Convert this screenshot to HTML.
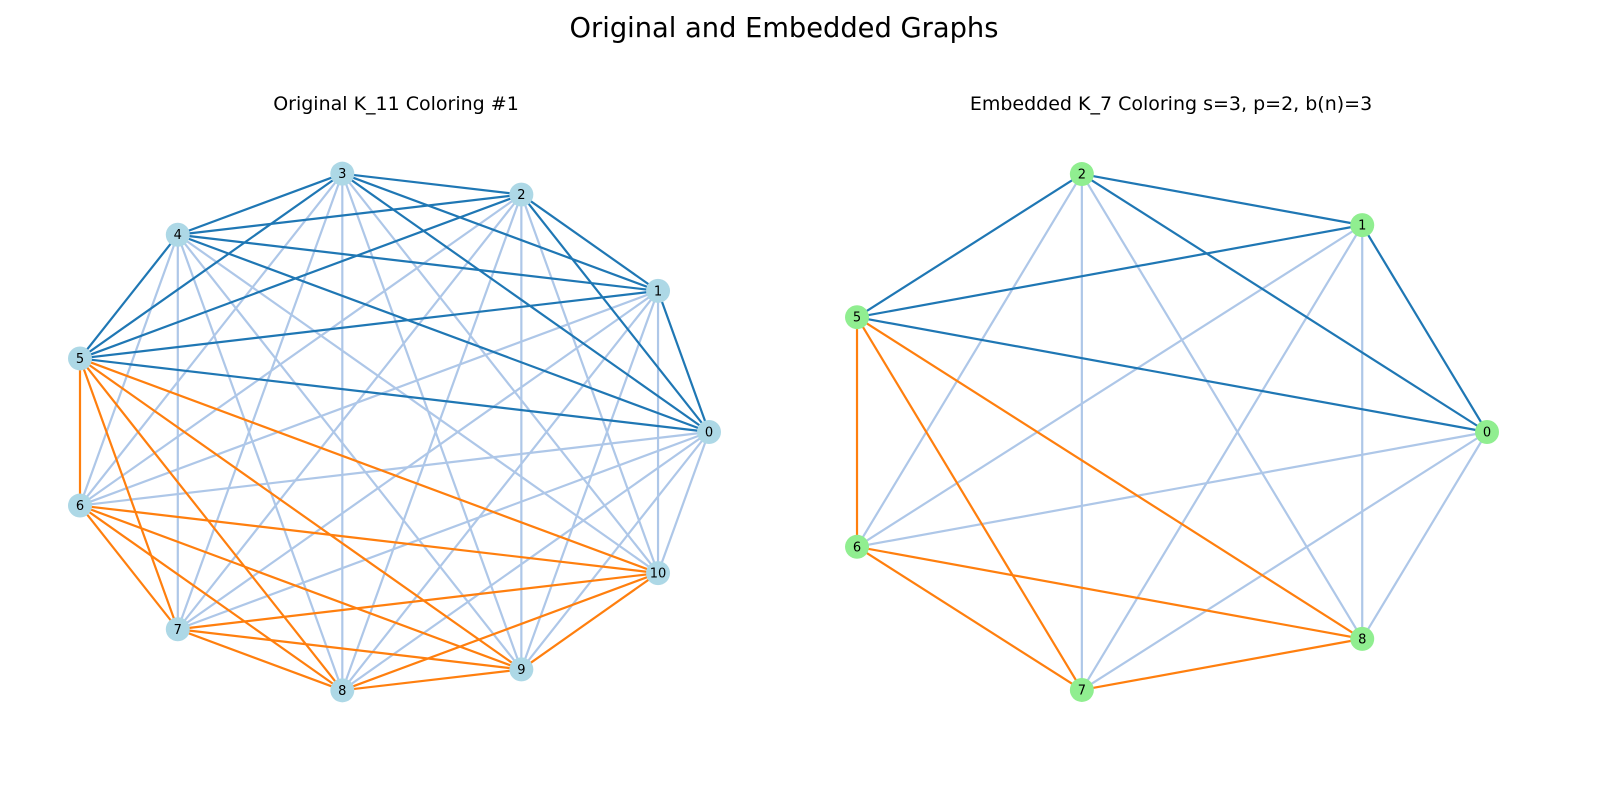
<!DOCTYPE html>
<html><head><meta charset="utf-8"><style>
body{margin:0;background:#fff;font-family:"Liberation Sans","DejaVu Sans",sans-serif}
</style></head><body>
<svg id="chart" width="1600" height="800" xmlns="http://www.w3.org/2000/svg">
<rect width="1600" height="800" fill="#fff"/>
<text x="784" y="37" font-size="27.3" text-anchor="middle" font-family="DejaVu Sans, sans-serif">Original and Embedded Graphs</text>
<text x="396" y="110" font-size="19" text-anchor="middle" font-family="DejaVu Sans, sans-serif">Original K_11 Coloring #1</text>
<text x="1171" y="110" font-size="19" text-anchor="middle" font-family="DejaVu Sans, sans-serif">Embedded K_7 Coloring s=3, p=2, b(n)=3</text>
<g id="left"></g>
<g id="right"></g>
</svg>
<script>
const leftNodes=[0,1,2,3,4,5,6,7,8,9,10];
const leftBlue=[0,1,2,3,4,5];
const leftOrange=[5,6,7,8,9,10];
const rightNodes=[0,1,2,5,6,7,8];
const rightBlue=[0,1,2,5];
const rightOrange=[5,6,7,8];
const NS="http://www.w3.org/2000/svg";
function draw(gid,nodes,blue,orange,cx,cy,rx,ry,nodeFill,prefix){
  const g=document.getElementById(gid);
  const n=nodes.length;
  const pos={};
  nodes.forEach((id,i)=>{const a=2*Math.PI*i/n;pos[id]=[cx+rx*Math.cos(a),cy-ry*Math.sin(a)];});
  const edges=[];
  for(let i=0;i<n;i++)for(let j=i+1;j<n;j++){
    const a=nodes[i],b=nodes[j];let c="#aec7e8",o=0;
    if(blue.includes(a)&&blue.includes(b)){c="#1f77b4";o=1;}
    else if(orange.includes(a)&&orange.includes(b)){c="#ff7f0e";o=1;}
    edges.push([a,b,c,o]);
  }
  edges.sort((x,y)=>x[3]-y[3]);
  edges.forEach(e=>{
    const l=document.createElementNS(NS,"line");
    l.setAttribute("x1",pos[e[0]][0]);l.setAttribute("y1",pos[e[0]][1]);
    l.setAttribute("x2",pos[e[1]][0]);l.setAttribute("y2",pos[e[1]][1]);
    l.setAttribute("stroke",e[2]);l.setAttribute("stroke-width","2.2");
    
    
    g.appendChild(l);
  });
  nodes.forEach(id=>{
    const c=document.createElementNS(NS,"circle");
    c.setAttribute("cx",pos[id][0]);c.setAttribute("cy",pos[id][1]);c.setAttribute("r","12");
    c.setAttribute("fill",nodeFill);
    
    
    g.appendChild(c);
    const t=document.createElementNS(NS,"text");
    t.setAttribute("x",pos[id][0]);t.setAttribute("y",pos[id][1]+4.5);
    t.setAttribute("text-anchor","middle");t.setAttribute("font-size","13");
    t.setAttribute("font-family","DejaVu Sans, sans-serif");
    t.textContent=id;
    
    
    g.appendChild(t);
  });
}
draw("left",leftNodes,leftBlue,leftOrange,388,432,321,261,"#add8e6","left");
draw("right",rightNodes,rightBlue,rightOrange,1155.6,432,331.4,264.6,"#90ee90","right");
</script>
</body></html>
